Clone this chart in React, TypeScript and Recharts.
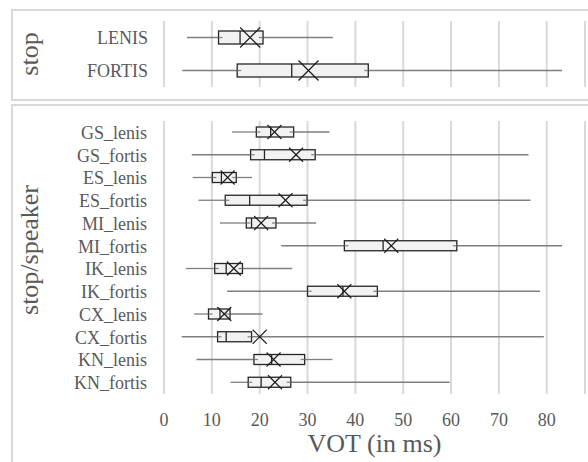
import { Bar, CartesianGrid, ComposedChart, XAxis, YAxis } from "recharts";

// VOT box plots: one panel per stop, one per stop/speaker
const stopCats = ["LENIS", "FORTIS"];
const stopMin = [4.8, 3.8];
const stopQ1 = [11.4, 15.3];
const stopMedian = [15.9, 26.7];
const stopQ3 = [20.7, 42.7];
const stopMean = [18.0, 30.2];
const stopMax = [35.3, 83.2];

const speakerCats = [
  "GS_lenis",
  "GS_fortis",
  "ES_lenis",
  "ES_fortis",
  "MI_lenis",
  "MI_fortis",
  "IK_lenis",
  "IK_fortis",
  "CX_lenis",
  "CX_fortis",
  "KN_lenis",
  "KN_fortis",
];
const speakerMin = [14.2, 5.8, 6.0, 7.2, 11.7, 24.5, 4.6, 13.2, 6.3, 3.7, 6.8, 13.9];
const speakerQ1 = [19.3, 18.1, 10.1, 12.8, 17.2, 37.7, 10.6, 30.0, 9.3, 11.2, 18.8, 17.6];
const speakerMedian = [22.3, 21.0, 12.0, 17.9, 18.3, 45.8, 13.0, 37.4, 11.7, 13.0, 22.5, 20.3];
const speakerQ3 = [27.1, 31.6, 15.1, 29.9, 23.4, 61.2, 16.4, 44.6, 13.8, 18.3, 29.4, 26.5];
const speakerMean = [23.1, 27.6, 13.3, 25.4, 20.3, 47.5, 14.6, 37.7, 12.6, 20.0, 22.9, 23.2];
const speakerMax = [34.6, 76.2, 18.4, 76.6, 31.8, 83.2, 26.8, 78.6, 20.6, 79.4, 35.2, 59.7];

const xTicks = [0, 10, 20, 30, 40, 50, 60, 70, 80];

type BoxRow = {
  name: string;
  range: [number, number];
  min: number;
  q1: number;
  median: number;
  q3: number;
  mean: number;
  max: number;
};

function buildRows(
  cats: string[],
  min: number[],
  q1: number[],
  median: number[],
  q3: number[],
  mean: number[],
  max: number[]
): BoxRow[] {
  return cats.map((name, i) => ({
    name,
    range: [min[i], max[i]],
    min: min[i],
    q1: q1[i],
    median: median[i],
    q3: q3[i],
    mean: mean[i],
    max: max[i],
  }));
}

const stopRows = buildRows(stopCats, stopMin, stopQ1, stopMedian, stopQ3, stopMean, stopMax);
const speakerRows = buildRows(
  speakerCats,
  speakerMin,
  speakerQ1,
  speakerMedian,
  speakerQ3,
  speakerMean,
  speakerMax
);

const FONT = '"Liberation Serif", "Times New Roman", serif';
const GREY_TEXT = "#595959";
const GRID = "#d9d9d9";

// the bar spans [min, max]; the other stats sit on the same linear scale
function makeBoxShape(xHalf: number) {
  return function BoxShape(props: any) {
    const { x, y, width, height, payload } = props;
    if (x == null || width == null || !payload) return null;
    const row = payload as BoxRow;
    const px = (v: number) => x + ((v - row.min) / (row.max - row.min)) * width;
    const cy = y + height / 2;
    const bx1 = px(row.q1);
    const bx2 = px(row.q3);
    const mx = px(row.mean);
    return (
      <g>
        <line x1={px(row.min)} x2={bx1} y1={cy} y2={cy} stroke="#7f7f7f" strokeWidth={1.3} />
        <line x1={bx2} x2={px(row.max)} y1={cy} y2={cy} stroke="#7f7f7f" strokeWidth={1.3} />
        <rect
          x={bx1}
          y={y}
          width={bx2 - bx1}
          height={height}
          fill="#f2f2f2"
          stroke="#262626"
          strokeWidth={1.3}
        />
        <line x1={bx1} x2={bx1 + 4} y1={cy} y2={cy} stroke="#7f7f7f" strokeWidth={1.2} />
        <line x1={bx2 - 4} x2={bx2} y1={cy} y2={cy} stroke="#7f7f7f" strokeWidth={1.2} />
        <line
          x1={px(row.median)}
          x2={px(row.median)}
          y1={y}
          y2={y + height}
          stroke="#262626"
          strokeWidth={1.3}
        />
        <line x1={mx - xHalf} x2={mx + xHalf} y1={cy - xHalf} y2={cy + xHalf} stroke="#1a1a1a" strokeWidth={1.1} />
        <line x1={mx - xHalf} x2={mx + xHalf} y1={cy + xHalf} y2={cy - xHalf} stroke="#1a1a1a" strokeWidth={1.1} />
      </g>
    );
  };
}

export default function App() {
  return (
    <div
      style={{
        position: "absolute",
        left: 0,
        top: 0,
        width: 588,
        height: 462,
        overflow: "hidden",
        background: "#fff",
        fontFamily: FONT,
      }}
    >
      {/* panel frames, open on the right like the source */}
      <svg width={588} height={462} style={{ position: "absolute", left: 0, top: 0 }}>
        <g stroke={GRID} strokeWidth={2} fill="none">
          <path d="M588 10 H12 V100 H588" />
          <path d="M588 105 H12 V462" />
        </g>
      </svg>

      <div style={{ position: "absolute", left: 0, top: 0 }}>
        <ComposedChart
          width={588}
          height={100}
          data={stopRows}
          layout="vertical"
          margin={{ top: 21, right: 3, bottom: 13, left: 0 }}
        >
          <CartesianGrid horizontal={false} stroke={GRID} strokeWidth={2} />
          <XAxis type="number" domain={[0, 88]} ticks={xTicks} hide />
          <YAxis
            type="category"
            dataKey="name"
            width={164}
            interval={0}
            axisLine={false}
            tickLine={false}
            tickSize={0}
            tickMargin={16}
            tick={{ fill: GREY_TEXT, fontSize: 18, fontFamily: FONT }}
            label={() => (
              <text
                x={38}
                y={54}
                transform="rotate(-90 38 54)"
                textAnchor="middle"
                fill={GREY_TEXT}
                fontSize={26}
                fontFamily={FONT}
              >
                stop
              </text>
            )}
          />
          <Bar dataKey="range" barSize={13} shape={makeBoxShape(10)} isAnimationActive={false} />
        </ComposedChart>
      </div>

      <div style={{ position: "absolute", left: 0, top: 0 }}>
        <ComposedChart
          width={588}
          height={462}
          data={speakerRows}
          layout="vertical"
          margin={{ top: 121, right: 3, bottom: 0, left: 0 }}
        >
          <CartesianGrid horizontal={false} stroke={GRID} strokeWidth={2} />
          <XAxis
            type="number"
            domain={[0, 88]}
            ticks={xTicks}
            height={68}
            axisLine={false}
            tickLine={false}
            tickSize={0}
            tickMargin={19}
            tick={{ fill: GREY_TEXT, fontSize: 18, fontFamily: FONT }}
            label={(p: any) => {
              const vb = p.viewBox || {};
              return (
                <text
                  x={(vb.x ?? 164) + (vb.width ?? 421) / 2}
                  y={452}
                  textAnchor="middle"
                  fill={GREY_TEXT}
                  fontSize={26}
                  fontFamily={FONT}
                >
                  VOT (in ms)
                </text>
              );
            }}
          />
          <YAxis
            type="category"
            dataKey="name"
            width={164}
            interval={0}
            axisLine={false}
            tickLine={false}
            tickSize={0}
            tickMargin={17}
            tick={{ fill: GREY_TEXT, fontSize: 18, fontFamily: FONT }}
            label={() => (
              <text
                x={38}
                y={250}
                transform="rotate(-90 38 250)"
                textAnchor="middle"
                fill={GREY_TEXT}
                fontSize={26}
                fontFamily={FONT}
              >
                stop/speaker
              </text>
            )}
          />
          <Bar dataKey="range" barSize={10} shape={makeBoxShape(7)} isAnimationActive={false} />
        </ComposedChart>
      </div>
    </div>
  );
}
